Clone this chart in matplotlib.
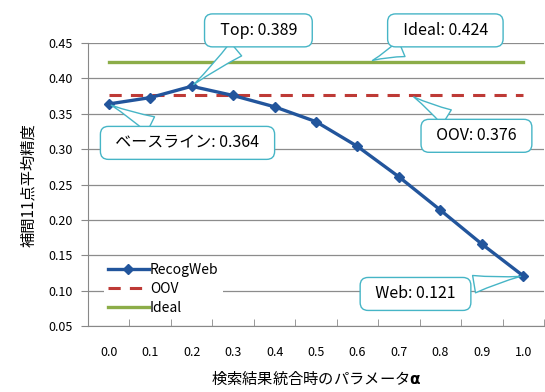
import numpy as np
import matplotlib
matplotlib.use('Agg')
from matplotlib import pyplot as plt
from matplotlib.ticker import MultipleLocator, FixedLocator

plt.rcParams['font.family'] = ['Noto Sans CJK JP', 'DejaVu Sans']

alphas = ['0.0', '0.1', '0.2', '0.3', '0.4', '0.5', '0.6', '0.7', '0.8', '0.9', '1.0']
recog_web = [0.364, 0.373, 0.389, 0.376, 0.360, 0.339, 0.304, 0.261, 0.214, 0.166, 0.121]
oov = [0.376] * 11
ideal = [0.424] * 11

# text, target x, target y, box centre x, box centre y
callouts = [
    ('Top: 0.389', 2, 0.389, 3.61, 0.468),
    ('Ideal: 0.424', 6.3, 0.424, 8.12, 0.468),
    ('OOV: 0.376', 7.3, 0.376, 8.87, 0.319),
    ('ベースライン: 0.364', 0, 0.364, 1.9, 0.309),
    ('Web: 0.121', 10, 0.121, 7.4, 0.0955),
]

fig = plt.figure(figsize=(5.45, 3.92), dpi=100)
ax = fig.add_axes([0.1615, 0.168, 0.8367, 0.722])

x = np.arange(len(alphas))
ax.plot(x, recog_web, color='#22559c', lw=2.4, marker='D', ms=5, label='RecogWeb', zorder=4)
ax.plot(x, oov, color='#be3a36', lw=2.2, dashes=(4, 3), label='OOV', zorder=3)
ax.plot(x, ideal, color='#8cad48', lw=2.4, label='Ideal', zorder=3)

ax.set_xlim(-0.5, 10.5)
ax.set_ylim(0.05, 0.45)
ax.yaxis.set_major_locator(MultipleLocator(0.05))
ax.set_yticklabels(['%.2f' % v for v in ax.get_yticks()])
ax.set_xticks(x)
ax.set_xticklabels(alphas)
ax.xaxis.set_minor_locator(FixedLocator(np.arange(-0.5, 11, 1)))
ax.tick_params(axis='x', which='major', length=0, pad=14, labelsize=9)
ax.tick_params(axis='x', which='minor', length=5, color='#888888', direction='in')
ax.tick_params(axis='y', length=5, color='#888888', labelsize=9, pad=6)
ax.grid(axis='y', color='#8c8c8c', lw=0.9)
ax.set_axisbelow(True)
for s in ['top', 'right']:
    ax.spines[s].set_visible(False)
for s in ['left', 'bottom']:
    ax.spines[s].set_color('#888888')

ax.set_ylabel('補間11点平均精度', fontsize=11, labelpad=8)
ax.set_xlabel('検索結果統合時のパラメータ$\\mathbf{\\alpha}$', fontsize=11, labelpad=8)

leg = ax.legend(loc='lower left', bbox_to_anchor=(0.02, 0.0), frameon=True, fontsize=10,
                handlelength=2.9, handletextpad=0.1, labelspacing=0.35, borderpad=0.3)
leg.get_frame().set_edgecolor('none')
leg.get_frame().set_facecolor('white')
leg.get_frame().set_alpha(1)

for txt, px, py, tx, ty in callouts:
    ax.annotate('  ' + txt + '  ', xy=(px, py), xytext=(tx, ty), textcoords='data',
                ha='center', va='center', fontsize=11.5, annotation_clip=False, zorder=6,
                bbox=dict(boxstyle='round,pad=0.5,rounding_size=0.5', fc='white', ec='#46b5c6', lw=1.0),
                arrowprops=dict(arrowstyle='wedge,tail_width=1.1,shrink_factor=0.4',
                                fc='white', ec='#46b5c6', lw=1.0))

fig.savefig('out.png', dpi=100)
